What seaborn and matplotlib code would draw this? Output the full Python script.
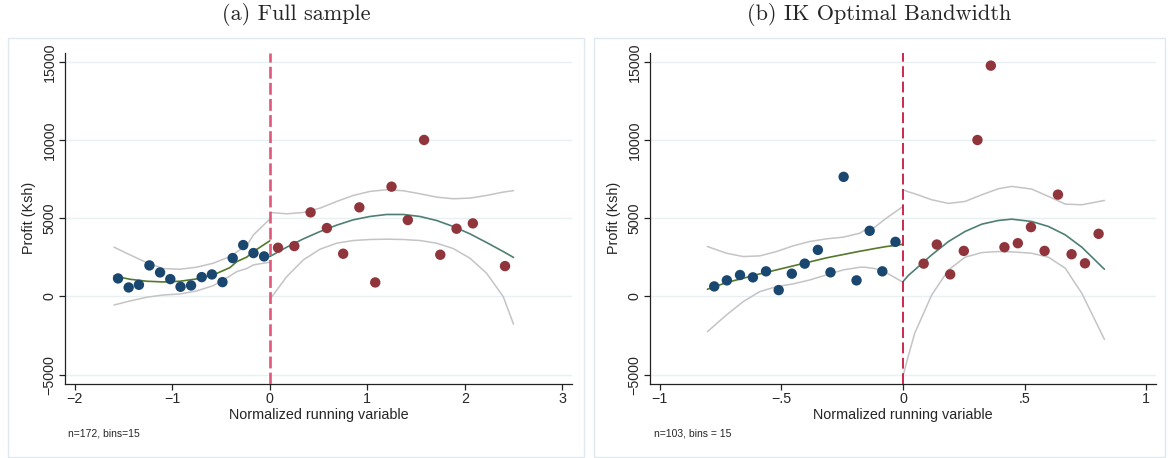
import matplotlib
matplotlib.use("Agg")
import matplotlib.pyplot as plt
from matplotlib.patches import Rectangle
import pandas as pd
import seaborn as sns

# ---- panel (a): full sample, binned means ----
a_left_x = [-1.556, -1.447, -1.342, -1.234, -1.125, -1.020, -0.915, -0.807,
            -0.698, -0.593, -0.485, -0.380, -0.272, -0.167, -0.058]
a_left_y = [1153, 576, 747, 1986, 1537, 1110, 619, 705, 1238, 1409, 918,
            2455, 3288, 2776, 2562]
a_right_x = [0.085, 0.252, 0.419, 0.586, 0.753, 0.919, 1.082, 1.249, 1.416,
             1.583, 1.749, 1.916, 2.083, 2.413]
a_right_y = [3117, 3224, 5380, 4377, 2733, 5700, 897, 7024, 4889, 10013,
             2669, 4334, 4676, 1943]

# fitted polynomial and CI band
a_fitL_x = [-1.597, -1.433, -1.262, -1.091, -0.920, -0.750, -0.579, -0.408,
            -0.338, -0.237, -0.167, 0.0]
a_fitL = [1314, 1100, 974, 929, 974, 1121, 1378, 1847, 2231, 2513, 2872, 3557]
a_hiL = [3153, 2660, 2167, 1783, 1743, 1872, 2128, 2551, 2850, 3237, 3942, 4948]
a_loL = [-545, -288, -51, 96, 160, 353, 693, 1314, 1590, 1783, 2019, 2192]

a_fitR_x = [0.0, 0.174, 0.345, 0.516, 0.687, 0.857, 1.028, 1.199, 1.369,
            1.540, 1.711, 1.882, 2.053, 2.224, 2.395, 2.5]
a_fitR = [2553, 3152, 3686, 4155, 4562, 4904, 5117, 5245, 5245, 5117, 4861,
          4476, 4006, 3451, 2873, 2498]
a_hiR = [5373, 5288, 5373, 5651, 6079, 6463, 6720, 6827, 6763, 6570, 6356,
         6250, 6292, 6463, 6677, 6768]
a_loR = [-200, 1269, 2340, 3023, 3408, 3579, 3643, 3665, 3643, 3579, 3408,
         3066, 2447, 1485, -13, -1772]

# ---- panel (b): IK optimal bandwidth ----
b_left_x = [-0.776, -0.724, -0.670, -0.617, -0.563, -0.511, -0.457, -0.404,
            -0.350, -0.298, -0.244, -0.191, -0.137, -0.085, -0.031]
b_left_y = [643, 1029, 1372, 1222, 1607, 407, 1457, 2100, 2979, 1543, 7651,
            1029, 4200, 1607, 3493]
b_right_x = [0.085, 0.139, 0.194, 0.250, 0.306, 0.361, 0.417, 0.472, 0.526,
             0.582, 0.637, 0.693, 0.748, 0.804]
b_right_y = [2100, 3322, 1414, 2914, 10008, 14765, 3150, 3407, 4436, 2914,
             6515, 2700, 2121, 4007]

b_fitL_x = [-0.804, -0.726, -0.657, -0.589, -0.520, -0.452, -0.383, -0.315,
            -0.246, -0.177, -0.156, -0.116, -0.074, 0.0]
b_fitL = [461, 887, 1165, 1442, 1699, 1955, 2211, 2468, 2681, 2895, 2950,
          3066, 3180, 3340]
b_hiL = [3194, 2767, 2553, 2596, 2873, 3237, 3515, 3686, 3793, 4049, 4263,
         4433, 4946, 5758]
b_loL = [-2254, -1186, -331, 310, 630, 801, 1058, 1378, 1699, 1870, 1870,
         1784, 1570, 908]

b_fitR_x = [0.0, 0.021, 0.048, 0.118, 0.187, 0.255, 0.324, 0.392, 0.447,
            0.529, 0.598, 0.667, 0.735, 0.828]
b_fitR = [951, 1330, 1699, 2660, 3515, 4156, 4626, 4861, 4946, 4797, 4476,
          3942, 3151, 1741]
b_hiR = [6827, 6700, 6570, 6186, 5951, 6079, 6506, 6891, 7040, 6870, 6399,
         5908, 5865, 6142]
b_loR = [-5100, -3857, -2361, 96, 1699, 2510, 2809, 2873, 2852, 2767, 2510,
         1806, 203, -2746]

titles = ["(a) Full sample", "(b) IK Optimal Bandwidth"]
notes = ["n=172, bins=15", "n=103, bins = 15"]
a_xticks = [-2, -1, 0, 1, 2, 3]
a_xticklabels = ["\u22122", "\u22121", "0", "1", "2", "3"]
b_xticks = [-1, -0.5, 0, 0.5, 1]
b_xticklabels = ["\u22121", "\u2212.5", "0", ".5", "1"]
yticks = [-5000, 0, 5000, 10000, 15000]
yticklabels = ["\u22125000", "0", "5000", "10000", "15000"]

sns.set_style("white")
plt.rcParams["font.family"] = ["Liberation Sans", "DejaVu Sans"]

W, H = 1172, 458
fig = plt.figure(figsize=(W / 100, H / 100), dpi=100)

NAVY = "#1a476f"
MAROON = "#90353b"
GRID = "#e8f0f1"
CI = "#c4c4c4"


def px_axes(l, r, t, b):
    return fig.add_axes([l / W, 1 - b / H, (r - l) / W, (b - t) / H])


panels = [
    dict(ax=px_axes(65, 572, 52.6, 384), xlim=(-2.1, 3.1),
         pts=[(a_left_x, a_left_y, NAVY), (a_right_x, a_right_y, MAROON)],
         left=(a_fitL_x, a_fitL, a_hiL, a_loL),
         right=(a_fitR_x, a_fitR, a_hiR, a_loR),
         xt=a_xticks, xtl=a_xticklabels, vcol="#e0577a", vlw=1.9,
         vdash=(4.5, 1.6), frame=(8, 584), title=titles[0], note=notes[0]),
    dict(ax=px_axes(650, 1156, 52.6, 384), xlim=(-1.04, 1.04),
         pts=[(b_left_x, b_left_y, NAVY), (b_right_x, b_right_y, MAROON)],
         left=(b_fitL_x, b_fitL, b_hiL, b_loL),
         right=(b_fitR_x, b_fitR, b_hiR, b_loR),
         xt=b_xticks, xtl=b_xticklabels, vcol="#c8173f", vlw=1.3,
         vdash=(6, 2.5), frame=(594, 1165), title=titles[1], note=notes[1]),
]

for p in panels:
    ax = p["ax"]
    for yv in yticks:
        ax.axhline(yv, color=GRID, lw=1.0, zorder=0)

    for side, fitcol in ((p["left"], "#55782a"), (p["right"], "#4f7f72")):
        xs, fit, hi, lo = side
        df = pd.DataFrame({"x": xs, "fit": fit, "hi": hi, "lo": lo})
        for col in ("hi", "lo"):
            sns.lineplot(data=df, x="x", y=col, ax=ax, color=CI, lw=1.1,
                         sort=False, estimator=None, zorder=2)
        sns.lineplot(data=df, x="x", y="fit", ax=ax, color=fitcol, lw=1.2,
                     sort=False, estimator=None, zorder=3)

    for xs, ys, c in p["pts"]:
        sns.scatterplot(x=xs, y=ys, ax=ax, color=c, s=56, edgecolor="none",
                        zorder=4)

    ax.axvline(0, color=p["vcol"], lw=p["vlw"], dashes=p["vdash"], zorder=5)

    ax.set_xlim(*p["xlim"])
    ax.set_ylim(-5600, 15600)
    ax.set_xticks(p["xt"])
    ax.set_xticklabels(p["xtl"])
    ax.set_yticks(yticks)
    ax.set_yticklabels(yticklabels, rotation=90, va="center")
    ax.tick_params(axis="both", direction="out", length=4, width=0.9,
                   color="#222222", labelsize=10.3, pad=2,
                   left=True, bottom=True)
    for s in ("top", "right"):
        ax.spines[s].set_visible(False)
    for s in ("left", "bottom"):
        ax.spines[s].set_color("#222222")
        ax.spines[s].set_linewidth(0.9)
    ax.set_xlabel("Normalized running variable", fontsize=10.4, labelpad=1)
    ax.set_ylabel("Profit (Ksh)", fontsize=10.4, labelpad=5)

    x0, x1 = p["frame"]
    fig.patches.append(Rectangle((x0 / W, 1 / H), (x1 - x0) / W, 419 / H,
                                 transform=fig.transFigure, fill=False,
                                 edgecolor="#dde9ec", lw=1.0))
    fig.text((x0 + x1) / 2 / W, 1 - 15 / H, p["title"], family="cmr10",
             fontsize=16, ha="center", va="center")
    fig.text((x0 + 60) / W, 1 - 433 / H, p["note"], fontsize=7.5,
             ha="left", va="center")

fig.savefig("out.png", dpi=100)
